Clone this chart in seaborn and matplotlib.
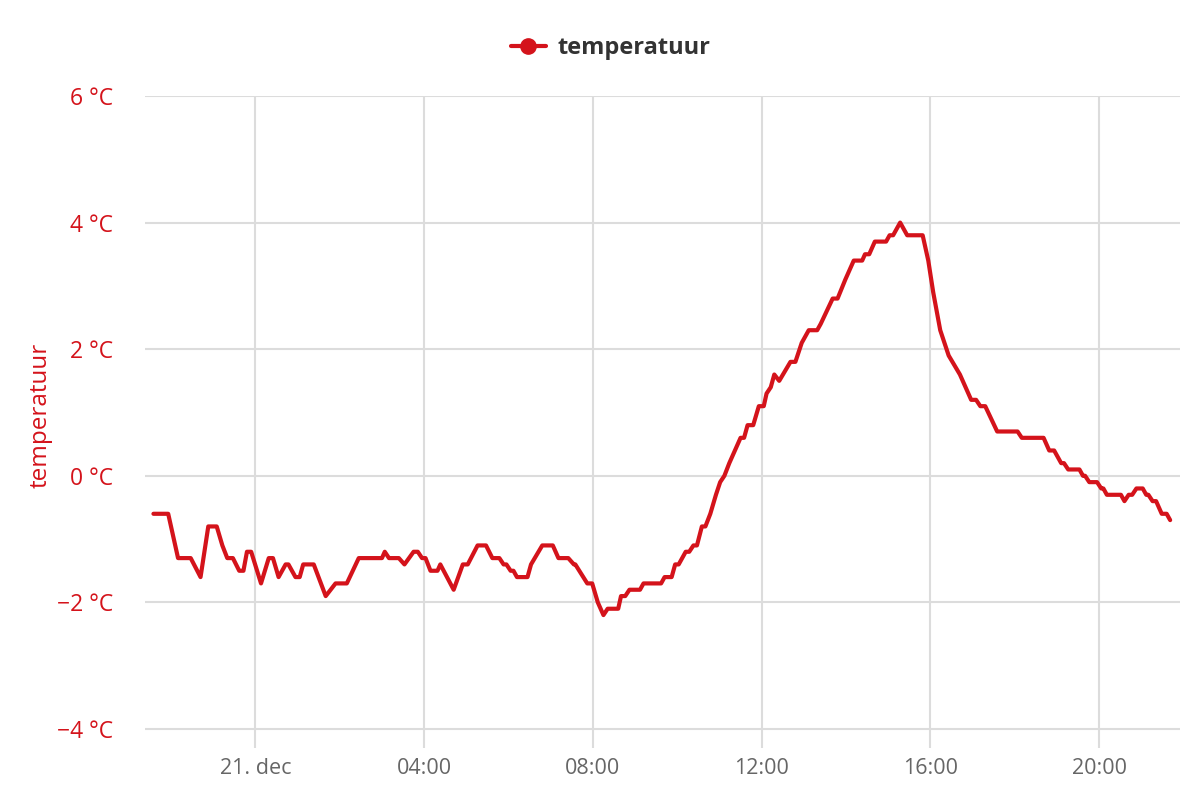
import pandas as pd
import matplotlib
matplotlib.use("Agg")
import matplotlib.pyplot as plt
import matplotlib.dates as mdates
from matplotlib.lines import Line2D
import seaborn as sns

# Meetpunten (tijd, temperatuur in °C)
tijden = [
    "2023-12-20 21:35", "2023-12-20 21:56", "2023-12-20 22:10", "2023-12-20 22:28",
    "2023-12-20 22:42", "2023-12-20 22:53", "2023-12-20 23:05", "2023-12-20 23:13",
    "2023-12-20 23:20", "2023-12-20 23:28", "2023-12-20 23:37", "2023-12-20 23:43",
    "2023-12-20 23:48", "2023-12-20 23:54",
    "2023-12-21 00:08", "2023-12-21 00:19", "2023-12-21 00:25", "2023-12-21 00:33",
    "2023-12-21 00:43", "2023-12-21 00:47", "2023-12-21 00:57", "2023-12-21 01:03",
    "2023-12-21 01:08", "2023-12-21 01:23", "2023-12-21 01:40", "2023-12-21 01:54",
    "2023-12-21 02:10", "2023-12-21 02:27", "2023-12-21 03:00", "2023-12-21 03:04",
    "2023-12-21 03:10", "2023-12-21 03:24", "2023-12-21 03:32", "2023-12-21 03:45",
    "2023-12-21 03:51", "2023-12-21 03:57", "2023-12-21 04:02", "2023-12-21 04:09",
    "2023-12-21 04:19", "2023-12-21 04:23", "2023-12-21 04:42", "2023-12-21 04:55",
    "2023-12-21 05:02", "2023-12-21 05:16", "2023-12-21 05:28", "2023-12-21 05:37",
    "2023-12-21 05:47", "2023-12-21 05:53", "2023-12-21 05:57", "2023-12-21 06:03",
    "2023-12-21 06:07", "2023-12-21 06:12", "2023-12-21 06:27", "2023-12-21 06:32",
    "2023-12-21 06:48", "2023-12-21 07:03", "2023-12-21 07:11", "2023-12-21 07:25",
    "2023-12-21 07:33", "2023-12-21 07:35", "2023-12-21 07:52", "2023-12-21 07:59",
    "2023-12-21 08:07", "2023-12-21 08:15", "2023-12-21 08:21", "2023-12-21 08:36",
    "2023-12-21 08:40", "2023-12-21 08:46", "2023-12-21 08:52", "2023-12-21 09:07",
    "2023-12-21 09:12", "2023-12-21 09:37", "2023-12-21 09:42", "2023-12-21 09:52",
    "2023-12-21 09:57", "2023-12-21 10:02", "2023-12-21 10:12", "2023-12-21 10:17",
    "2023-12-21 10:23", "2023-12-21 10:28", "2023-12-21 10:35", "2023-12-21 10:40",
    "2023-12-21 10:47", "2023-12-21 10:55", "2023-12-21 11:01", "2023-12-21 11:07",
    "2023-12-21 11:14", "2023-12-21 11:22", "2023-12-21 11:30", "2023-12-21 11:35",
    "2023-12-21 11:40", "2023-12-21 11:48", "2023-12-21 11:56", "2023-12-21 12:03",
    "2023-12-21 12:07", "2023-12-21 12:13", "2023-12-21 12:18", "2023-12-21 12:25",
    "2023-12-21 12:41", "2023-12-21 12:48", "2023-12-21 12:57", "2023-12-21 13:07",
    "2023-12-21 13:19", "2023-12-21 13:24", "2023-12-21 13:41", "2023-12-21 13:48",
    "2023-12-21 13:59", "2023-12-21 14:11", "2023-12-21 14:23", "2023-12-21 14:27",
    "2023-12-21 14:33", "2023-12-21 14:41", "2023-12-21 14:57", "2023-12-21 15:02",
    "2023-12-21 15:07", "2023-12-21 15:17", "2023-12-21 15:27", "2023-12-21 15:49",
    "2023-12-21 15:57", "2023-12-21 16:04", "2023-12-21 16:14", "2023-12-21 16:26",
    "2023-12-21 16:42", "2023-12-21 16:58", "2023-12-21 17:05", "2023-12-21 17:11",
    "2023-12-21 17:18", "2023-12-21 17:35", "2023-12-21 18:04", "2023-12-21 18:10",
    "2023-12-21 18:41", "2023-12-21 18:49", "2023-12-21 18:56", "2023-12-21 19:06",
    "2023-12-21 19:10", "2023-12-21 19:16", "2023-12-21 19:32", "2023-12-21 19:37",
    "2023-12-21 19:40", "2023-12-21 19:46", "2023-12-21 19:57", "2023-12-21 20:03",
    "2023-12-21 20:06", "2023-12-21 20:11", "2023-12-21 20:31", "2023-12-21 20:36",
    "2023-12-21 20:42", "2023-12-21 20:47", "2023-12-21 20:53", "2023-12-21 21:02",
    "2023-12-21 21:07", "2023-12-21 21:10", "2023-12-21 21:16", "2023-12-21 21:21",
    "2023-12-21 21:29", "2023-12-21 21:36", "2023-12-21 21:41",
]

temperatuur = [
    -0.6, -0.6, -1.3, -1.3, -1.6, -0.8, -0.8, -1.1, -1.3, -1.3, -1.5, -1.5, -1.2, -1.2,
    -1.7, -1.3, -1.3, -1.6, -1.4, -1.4, -1.6, -1.6, -1.4, -1.4, -1.9, -1.7,
    -1.7, -1.3, -1.3, -1.2, -1.3, -1.3, -1.4, -1.2, -1.2, -1.3, -1.3, -1.5,
    -1.5, -1.4, -1.8, -1.4, -1.4, -1.1, -1.1, -1.3, -1.3, -1.4, -1.4, -1.5,
    -1.5, -1.6, -1.6, -1.4, -1.1, -1.1, -1.3, -1.3, -1.4, -1.4, -1.7, -1.7,
    -2.0, -2.2, -2.1, -2.1, -1.9, -1.9, -1.8, -1.8, -1.7, -1.7, -1.6, -1.6,
    -1.4, -1.4, -1.2, -1.2, -1.1, -1.1, -0.8, -0.8, -0.6, -0.3, -0.1, 0.0,
    0.2, 0.4, 0.6, 0.6, 0.8, 0.8, 1.1, 1.1, 1.3, 1.4, 1.6, 1.5,
    1.8, 1.8, 2.1, 2.3, 2.3, 2.4, 2.8, 2.8, 3.1, 3.4, 3.4, 3.5,
    3.5, 3.7, 3.7, 3.8, 3.8, 4.0, 3.8, 3.8, 3.4, 2.9, 2.3, 1.9,
    1.6, 1.2, 1.2, 1.1, 1.1, 0.7, 0.7, 0.6, 0.6, 0.4, 0.4, 0.2,
    0.2, 0.1, 0.1, 0.0, 0.0, -0.1, -0.1, -0.2, -0.2, -0.3, -0.3, -0.4,
    -0.3, -0.3, -0.2, -0.2, -0.3, -0.3, -0.4, -0.4, -0.6, -0.6, -0.7,
]

y_ticks = [-4, -2, 0, 2, 4, 6]
x_ticks = ["2023-12-21 00:00", "2023-12-21 04:00", "2023-12-21 08:00",
           "2023-12-21 12:00", "2023-12-21 16:00", "2023-12-21 20:00"]

df = pd.DataFrame({"tijd": pd.to_datetime(tijden), "temperatuur": temperatuur})

rood = "#d4131b"
grid = "#dcdcdc"

sns.set_style("whitegrid")
plt.rcParams["font.family"] = ["Open Sans", "DejaVu Sans"]

fig = plt.figure(figsize=(12, 8), dpi=100)
ax = fig.add_axes([145 / 1200, 1 - 748 / 800, 1035 / 1200, 652 / 800])

sns.lineplot(data=df, x="tijd", y="temperatuur", ax=ax, color=rood, linewidth=3,
             solid_joinstyle="round", solid_capstyle="round")

# Assen
ax.set_xlim(pd.Timestamp("2023-12-20 21:23"), pd.Timestamp("2023-12-21 21:55"))
ax.set_ylim(-4.3, 6.0)
ax.set_yticks(y_ticks)
ax.set_yticklabels([f"{v:d} °C".replace("-", "\u2212") for v in y_ticks],
                   color=rood, fontsize=16.5)
ax.set_xticks(pd.to_datetime(x_ticks))


def tijd_label(x, pos):
    d = mdates.num2date(x)
    if d.hour == 0 and d.minute == 0:
        return f"{d.day}. dec"
    return d.strftime("%H:%M")


ax.xaxis.set_major_formatter(plt.FuncFormatter(tijd_label))
ax.tick_params(axis="x", colors="#666666", labelsize=15.5, length=0, pad=7)
ax.tick_params(axis="y", length=0, pad=23)
for lbl in ax.get_yticklabels():
    lbl.set_color(rood)

ax.grid(True, color=grid, linewidth=1.5)
for s in ax.spines.values():
    s.set_visible(False)

ax.set_xlabel("")
ax.set_ylabel("temperatuur", color=rood, fontsize=17.5)
ax.yaxis.set_label_coords(-0.089, 0.51)

# Legenda
handle = Line2D([0], [0], color=rood, linewidth=3, marker="o", markersize=11)
fig.legend([handle], ["temperatuur"], loc="center", bbox_to_anchor=(0.509, 1 - 48 / 800),
           frameon=False, handlelength=1.5, handletextpad=0.5,
           prop={"weight": "bold", "size": 17}, labelcolor="#333333")

fig.savefig("out.png", dpi=100, facecolor="white")
